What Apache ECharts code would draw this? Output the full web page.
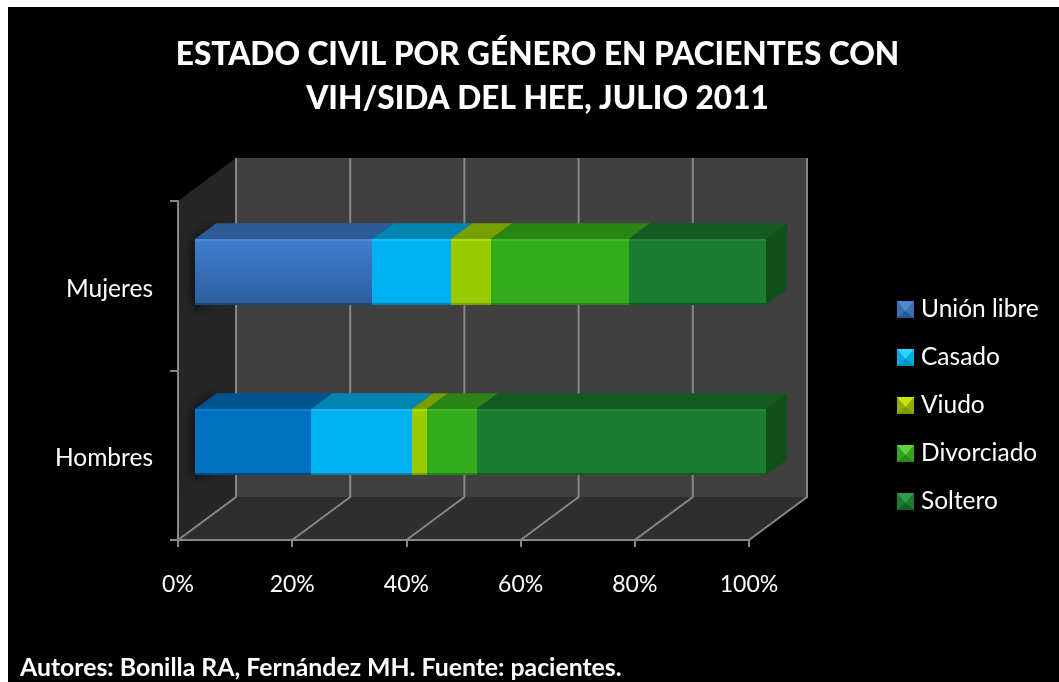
<!DOCTYPE html>
<html>
<head>
<meta charset="utf-8">
<script src="https://cdn.jsdelivr.net/npm/echarts@6/dist/echarts.min.js"></script>
<style>
html,body{margin:0;padding:0;background:#fff;}
#bg{position:absolute;left:8px;top:7px;width:1051px;height:675px;background:#000;}
#main{position:absolute;left:0;top:0;width:1059px;height:682px;}
</style>
</head>
<body>
<div id="bg"></div>
<div id="main"></div>
<script>
var categories = ['Hombres', 'Mujeres'];
var seriesNames = ['Unión libre', 'Casado', 'Viudo', 'Divorciado', 'Soltero'];
var unionLibre = [20.3, 31.0];
var casado = [17.7, 13.8];
var viudo = [2.6, 7.0];
var divorciado = [8.8, 24.2];
var soltero = [50.6, 24.0];
var xTicks = [0, 20, 40, 60, 80, 100];
var FONT = 'Lato, "Open Sans", sans-serif';

var valuesBySeries = [unionLibre, casado, viudo, divorciado, soltero];
/* face colours per category [Hombres, Mujeres] */
var faceTop = [['#0070C0', '#3F7ECF'], ['#00B0F0', '#00B0F0'], ['#99CC00', '#99CC00'], ['#33AB1C', '#33AB1C'], ['#1A7D2E', '#1A7D2E']];
var faceBottom = [['#0070C0', '#2C5E9E'], ['#00B0F0', '#00B0F0'], ['#99CC00', '#99CC00'], ['#33AB1C', '#33AB1C'], ['#1A7D2E', '#1A7D2E']];
var lidColors = [['#00538F', '#2C5C97'], ['#0084B0', '#0084B0'], ['#789F00', '#789F00'], ['#2A8514', '#2A8514'], ['#145A22', '#145A22']];
var hiColors = [['#0A80D2', '#4A88DA'], ['#0ABEFF', '#0ABEFF'], ['#ABDF00', '#ABDF00'], ['#3DBA24', '#3DBA24'], ['#208A36', '#208A36']];
var lowColors = [['#004A80', '#1E4674'], ['#0080AE', '#0080AE'], ['#7A9F00', '#7A9F00'], ['#27801A', '#27801A'], ['#125C22', '#125C22']];
var legendPyramid = [['#4F86D0', '#3A70B2', '#2A5A96'], ['#30D2FF', '#00A8E4', '#0090C4'], ['#CDE300', '#93AC00', '#7E9A00'], ['#5FD040', '#35A41C', '#2A8A16'], ['#2F9A4A', '#1A7A2E', '#145F24']];

var WALL_DX = 58, WALL_DY = -43;
var BAR_FRONT = 0.295, BAR_LIFT = 0.31, BAR_DEPTH = 0.365, BAR_RATIO = 0.39;

function pyramidIcon(c) {
  var svg = '<svg xmlns="http://www.w3.org/2000/svg" width="17" height="17">' +
    '<rect width="17" height="17" fill="' + c[1] + '"/>' +
    '<polygon points="0,0 17,0 8.5,10" fill="' + c[0] + '"/>' +
    '<polygon points="0,17 17,17 8.5,10" fill="' + c[2] + '"/></svg>';
  return 'image://data:image/svg+xml;charset=utf-8,' + encodeURIComponent(svg);
}

function wallsRender(params, api) {
  var cs = params.coordSys, l = cs.x, t = cs.y, r = cs.x + cs.width, b = cs.y + cs.height;
  var dx = WALL_DX, dy = WALL_DY, kids = [];
  kids.push({type: 'polygon', shape: {points: [[l + dx, t + dy], [r + dx, t + dy], [r + dx, b + dy], [l + dx, b + dy]]}, style: {fill: '#404040'}});
  kids.push({type: 'polygon', shape: {points: [[l, t], [l + dx, t + dy], [l + dx, b + dy], [l, b]]}, style: {fill: '#262626'}});
  kids.push({type: 'polygon', shape: {points: [[l, b], [l + dx, b + dy], [r + dx, b + dy], [r, b]]}, style: {fill: '#2E2E2E'}});
  xTicks.forEach(function (v) {
    var x = api.coord([v, 0])[0];
    kids.push({type: 'polyline', shape: {points: [[x, b], [x + dx, b + dy], [x + dx, t + dy]]}, style: {fill: 'none', stroke: '#868686', lineWidth: 2}});
  });
  return {type: 'group', children: kids};
}

function segmentRender(si) {
  return function (params, api) {
    var cat = api.value(1), start = api.value(0), end = api.value(2);
    var p0 = api.coord([start, cat]), p1 = api.coord([end, cat]);
    var band = api.size([0, 1])[1];
    var h = band * BAR_RATIO;
    var ox = WALL_DX * BAR_FRONT, oy = WALL_DY * BAR_LIFT;
    var dx = WALL_DX * BAR_DEPTH, dy = WALL_DY * BAR_DEPTH;
    var x0 = Math.round(p0[0] + ox), x1 = Math.round(p1[0] + ox);
    var top = Math.round(p0[1] + oy - h / 2), bot = Math.round(p0[1] + oy + h / 2);
    var kids = [];
    var last = si === seriesNames.length - 1;
    if (si === 0) {
      kids.push({type: 'polygon', shape: {points: [[x0, top + 3], [x0 + dx, top + dy], [x0 + dx, bot + dy], [x0, bot + 6]]},
        style: {fill: '#141414', shadowBlur: 14, shadowColor: 'rgba(0,0,0,0.9)'}});
    }
    kids.push({type: 'polygon', shape: {points: [[x0, top], [x0 + dx, top + dy], [x1 + dx, top + dy], [x1, top]]}, style: {fill: lidColors[si][cat]}});
    if (last) {
      kids.push({type: 'polygon', shape: {points: [[x1, top], [x1 + dx, top + dy], [x1 + dx, bot + dy], [x1, bot]]}, style: {fill: '#114F1B'}});
    }
    kids.push({type: 'rect', shape: {x: x0, y: top, width: x1 - x0, height: bot - top},
      style: {fill: {type: 'linear', x: 0, y: 0, x2: 0, y2: 1, colorStops: [{offset: 0, color: faceTop[si][cat]}, {offset: 1, color: faceBottom[si][cat]}]}}});
    kids.push({type: 'rect', shape: {x: x0, y: top, width: x1 - x0, height: 2}, style: {fill: hiColors[si][cat]}});
    kids.push({type: 'rect', shape: {x: x0, y: bot - 2, width: x1 - x0, height: 2}, style: {fill: lowColors[si][cat]}});
    return {type: 'group', children: kids};
  };
}

var stackBase = categories.map(function () { return 0; });
var barSeries = seriesNames.map(function (name, si) {
  var data = categories.map(function (c, ci) {
    var s = stackBase[ci], e = s + valuesBySeries[si][ci];
    stackBase[ci] = e;
    return [s, ci, e];
  });
  return {
    type: 'custom', name: name, coordinateSystem: 'cartesian2d', silent: true, clip: false, z: 5 + si,
    itemStyle: {color: faceTop[si][1]},
    encode: {x: [0, 2], y: 1},
    renderItem: segmentRender(si),
    data: data
  };
});

var chart = echarts.init(document.getElementById('main'), null, {renderer: 'canvas'});
chart.setOption({
  backgroundColor: 'transparent',
  animation: false,
  textStyle: {fontFamily: FONT},
  title: [
    {text: 'ESTADO CIVIL POR GÉNERO EN PACIENTES CON\nVIH/SIDA DEL HEE, JULIO 2011', left: 532.5, top: 28, textAlign: 'center',
     textStyle: {color: '#fff', fontFamily: FONT, fontWeight: 900, fontSize: 31.6, lineHeight: 44}},
    {text: 'Autores: Bonilla RA, Fernández MH. Fuente: pacientes.', left: 20, top: 656, padding: 0,
     textStyle: {color: '#fff', fontFamily: FONT, fontWeight: 'bold', fontSize: 24.8}}
  ],
  legend: {
    orient: 'vertical', left: 897, top: 297, padding: 0, itemWidth: 17, itemHeight: 17, itemGap: 23, selectedMode: false,
    textStyle: {color: '#fff', fontFamily: FONT, fontSize: 24.5, padding: [0, 0, 0, 2]},
    data: seriesNames.map(function (n, i) { return {name: n, icon: pyramidIcon(legendPyramid[i])}; })
  },
  grid: {left: 178, top: 201, width: 571, height: 339, containLabel: false},
  xAxis: {
    type: 'value', min: 0, max: 100, interval: 20, z: 20,
    axisLabel: {color: '#fff', fontSize: 23, margin: 33, fontFamily: FONT, formatter: '{value}%'},
    axisLine: {show: true, onZero: false, lineStyle: {color: '#868686', width: 2}},
    axisTick: {show: true, length: 7, lineStyle: {color: '#868686', width: 2}},
    splitLine: {show: false}
  },
  yAxis: {
    type: 'category', data: categories, z: 20,
    axisLabel: {margin: 25, formatter: '{l|{value}}', rich: {l: {color: '#fff', fontSize: 24.5, fontFamily: FONT, padding: [6, 0, 0, 0]}}},
    axisLine: {show: true, lineStyle: {color: '#868686', width: 2}},
    axisTick: {show: true, length: 8, alignWithLabel: false, lineStyle: {color: '#868686', width: 2}},
    splitLine: {show: false}
  },
  series: [{
    type: 'custom', name: 'walls', coordinateSystem: 'cartesian2d', silent: true, clip: false, z: 1,
    encode: {x: 0, y: 1}, renderItem: wallsRender, data: [[0, 0]]
  }].concat(barSeries)
});
</script>
</body>
</html>
